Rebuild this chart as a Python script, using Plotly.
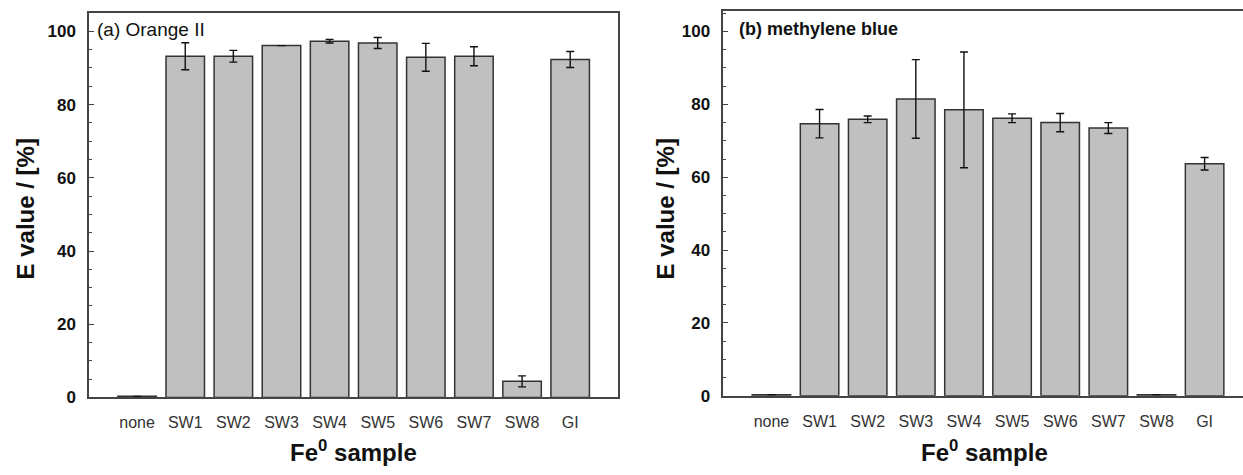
import plotly.graph_objects as go

# Fe0 samples tested against two dyes
samples = ["none", "SW1", "SW2", "SW3", "SW4", "SW5", "SW6", "SW7", "SW8", "GI"]

# (a) Orange II: discoloration efficiency E [%] and standard deviation
orange_e = [0.3, 93.2, 93.2, 96.1, 97.3, 96.8, 92.9, 93.2, 4.4, 92.3]
orange_err = [0, 3.7, 1.6, 0, 0.5, 1.5, 3.8, 2.6, 1.5, 2.2]

# (b) methylene blue: discoloration efficiency E [%] and standard deviation
mb_e = [0.3, 74.7, 75.9, 81.5, 78.5, 76.2, 75.0, 73.5, 0.3, 63.7]
mb_err = [0, 3.9, 0.9, 10.8, 15.9, 1.2, 2.5, 1.5, 0, 1.7]

W, H = 1243, 475
FONT = "Arial, Liberation Sans, sans-serif"
BAR_FILL = "#c0c0c0"
EDGE = "#333333"
AXIS = "#444444"


def px_x(p):
    return p / W


def px_y(p):
    return 1 - p / H


fig = go.Figure()

for data, err, xa, ya in [
    (orange_e, orange_err, "x", "y"),
    (mb_e, mb_err, "x2", "y2"),
]:
    fig.add_trace(
        go.Bar(
            x=samples,
            y=data,
            width=0.8,
            marker=dict(color=BAR_FILL, line=dict(color=EDGE, width=1.5)),
            error_y=dict(type="data", array=err, visible=True,
                         color="#111111", thickness=1.4, width=4),
            xaxis=xa,
            yaxis=ya,
            showlegend=False,
        )
    )

x_common = dict(
    type="category",
    tickmode="array",
    tickvals=samples,
    ticktext=samples,
    showline=True,
    linecolor=AXIS,
    linewidth=1.5,
    ticks="",
    tickfont=dict(family=FONT, size=16, color="#333333"),
    ticklabelstandoff=10,
    showgrid=False,
    zeroline=False,
)
y_common = dict(
    showline=True,
    linecolor=AXIS,
    linewidth=1.5,
    ticks="inside",
    ticklen=5,
    tickwidth=1.2,
    tickcolor=AXIS,
    tick0=0,
    dtick=20,
    minor=dict(ticks="inside", ticklen=3, tickwidth=1, tickcolor=AXIS, dtick=5, tick0=0),
    tickfont=dict(family=FONT, size=17, color="#111111", weight="bold"),
    ticklabelstandoff=8,
    showgrid=False,
    zeroline=False,
)

fig.update_layout(
    width=W,
    height=H,
    margin=dict(l=0, r=0, t=0, b=0),
    paper_bgcolor="white",
    plot_bgcolor="white",
    bargap=0.2,
    xaxis=dict(x_common, domain=[px_x(89), px_x(618.3)], range=[-1, 10],
               mirror=True, anchor="y"),
    yaxis=dict(y_common, domain=[px_y(406), px_y(13.3)], range=[0, 105],
               mirror=True, anchor="x"),
    xaxis2=dict(x_common, domain=[px_x(723.3), 1.0],
                range=[-1, -1 + (W - 723.3) / 48.13], mirror=True, anchor="y2"),
    yaxis2=dict(y_common, domain=[px_y(404.3), px_y(11)], range=[0, 105.7],
                mirror=False, anchor="x2"),
)

annotations = [
    # panel labels
    dict(text="(a) Orange II", x=px_x(95), y=px_y(30), xanchor="left", yanchor="middle",
         font=dict(family=FONT, size=19, color="#111111")),
    dict(text="<b>(b) methylene blue</b>", x=px_x(737), y=px_y(30), xanchor="left",
         yanchor="middle", font=dict(family=FONT, size=18, color="#111111")),
    # y-axis titles
    dict(text="<b>E value / [%]</b>", x=px_x(25), y=px_y(214), textangle=-90,
         xanchor="center", yanchor="middle", font=dict(family=FONT, size=24, color="#111111")),
    dict(text="<b>E value / [%]</b>", x=px_x(665), y=px_y(214), textangle=-90,
         xanchor="center", yanchor="middle", font=dict(family=FONT, size=24, color="#111111")),
    # x-axis titles
    dict(text="<b>Fe<sup>0</sup> sample</b>", x=px_x(353.5), y=px_y(461),
         xanchor="center", yanchor="middle", font=dict(family=FONT, size=24, color="#111111")),
    dict(text="<b>Fe<sup>0</sup> sample</b>", x=px_x(984), y=px_y(461),
         xanchor="center", yanchor="middle", font=dict(family=FONT, size=24, color="#111111")),
]
for a in annotations:
    a.update(xref="paper", yref="paper", showarrow=False)
fig.update_layout(annotations=annotations)

fig.write_html("out.html")
